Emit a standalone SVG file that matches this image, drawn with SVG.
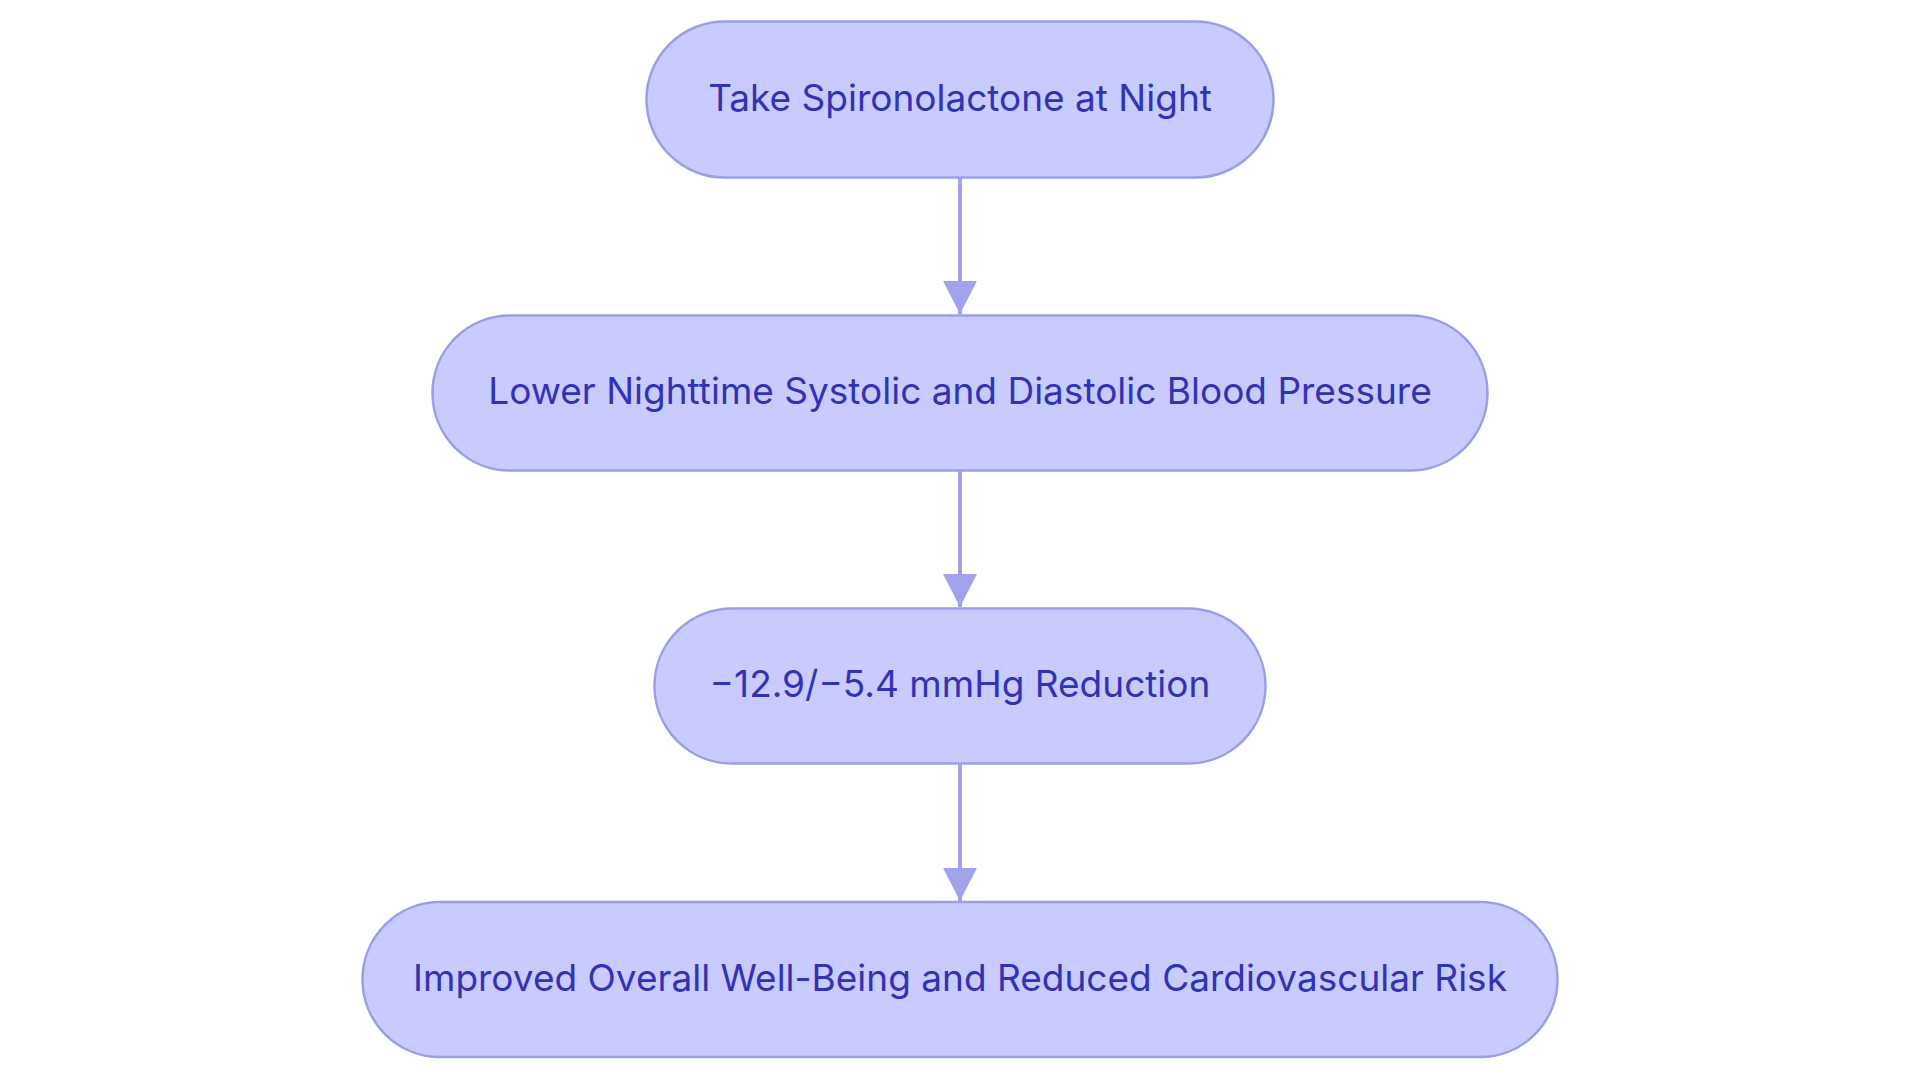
<svg xmlns="http://www.w3.org/2000/svg" width="1920" height="1083" viewBox="0 0 1920 1083">
<style>
.node rect{fill:#c8cbfd;stroke:#9a9ee6;stroke-width:2.5}
.node text{font-family:Inter,"Noto Sans",sans-serif;font-size:37px;fill:#3232b4;text-anchor:middle;dominant-baseline:central}
.edge{stroke:#a0a3ec;stroke-width:4;fill:none}
</style>
<defs>
<marker id="arr" markerUnits="userSpaceOnUse" markerWidth="34" markerHeight="34" refX="33" refY="17" orient="auto">
<path d="M0,0 L33,17 L0,34 z" fill="#a0a3ec"/>
</marker>
</defs>
<rect width="1920" height="1083" fill="#ffffff"/>
<g id="connectors">
<path class="edge" d="M960,177 L960,314" marker-end="url(#arr)"/>
<path class="edge" d="M960,471 L960,607" marker-end="url(#arr)"/>
<path class="edge" d="M960,764 L960,901" marker-end="url(#arr)"/>
</g>
<g id="n1" class="node">
<rect x="646.5" y="21.5" width="627" height="156" rx="78" ry="78"/>
<text x="960" y="97">Take Spironolactone at Night</text>
</g>
<g id="n2" class="node">
<rect x="432.5" y="315.5" width="1055" height="155" rx="77.5" ry="77.5"/>
<text x="960" y="390">Lower Nighttime Systolic and Diastolic Blood Pressure</text>
</g>
<g id="n3" class="node">
<rect x="654.5" y="608.5" width="611" height="155" rx="77.5" ry="77.5"/>
<text x="960" y="683">−12.9/−5.4 mmHg Reduction</text>
</g>
<g id="n4" class="node">
<rect x="362.5" y="902" width="1195" height="155" rx="77.5" ry="77.5"/>
<text x="960" y="977">Improved Overall Well-Being and Reduced Cardiovascular Risk</text>
</g>
</svg>
